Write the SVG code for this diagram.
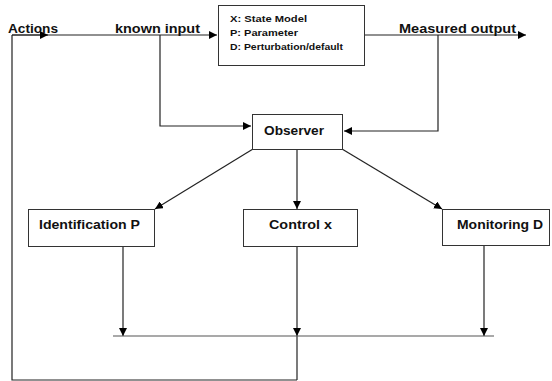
<svg xmlns="http://www.w3.org/2000/svg" width="552" height="381" viewBox="0 0 552 381">
<defs>
<marker id="ah" viewBox="0 0 10 10" refX="10" refY="5" markerWidth="8" markerHeight="8" markerUnits="userSpaceOnUse" orient="auto">
<path d="M0,0 L10,5 L0,10 z" fill="#000"/>
</marker>
</defs>
<style>
.box{fill:#fff;stroke:#333;stroke-width:1}
.t{font-family:"Liberation Sans",Arial,sans-serif;font-weight:bold;font-size:12px;fill:#111}
.s{font-family:"Liberation Sans",Arial,sans-serif;font-weight:bold;font-size:9.5px;fill:#111}
.c{fill:none;stroke:#222;stroke-width:1.2}
.g{fill:none;stroke:#555;stroke-width:1.2}
</style>
<rect width="552" height="381" fill="#fff"/>
<g id="connectors">
<line class="c" x1="12" y1="35" x2="217" y2="35" marker-end="url(#ah)"/>
<line class="c" x1="12" y1="35" x2="48" y2="35" marker-end="url(#ah)"/>
<polyline class="c" points="12,35 12,380 297,380"/>
<polyline class="c" points="160,35 160,126 251,126" marker-end="url(#ah)"/>
<line class="c" x1="364" y1="35" x2="526" y2="35" marker-end="url(#ah)"/>
<polyline class="c" points="438,35 438,131 344,131" marker-end="url(#ah)"/>
<line class="c" x1="253" y1="149" x2="155" y2="209" marker-end="url(#ah)"/>
<line class="c" x1="297" y1="149" x2="297" y2="209" marker-end="url(#ah)"/>
<line class="c" x1="342" y1="149" x2="442" y2="209" marker-end="url(#ah)"/>
<line class="c" x1="123" y1="246" x2="123" y2="336" marker-end="url(#ah)"/>
<line class="c" x1="297" y1="246" x2="297" y2="336" marker-end="url(#ah)"/>
<line class="c" x1="297" y1="336" x2="297" y2="380"/>
<line class="c" x1="484" y1="246" x2="484" y2="336" marker-end="url(#ah)"/>
<line class="g" x1="113" y1="336" x2="494" y2="336"/>
</g>
<g id="labels">
<text class="t" x="8" y="33" textLength="50" lengthAdjust="spacingAndGlyphs">Actions</text>
<text class="t" x="115" y="33" textLength="85" lengthAdjust="spacingAndGlyphs">known input</text>
<text class="t" x="399" y="33" textLength="117" lengthAdjust="spacingAndGlyphs">Measured output</text>
</g>
<g id="model">
<rect class="box" x="218.5" y="5.5" width="146" height="60"/>
<text class="s" x="230" y="22" textLength="77" lengthAdjust="spacingAndGlyphs">X: State Model</text>
<text class="s" x="230" y="36" textLength="68" lengthAdjust="spacingAndGlyphs">P: Parameter</text>
<text class="s" x="230" y="50" textLength="113" lengthAdjust="spacingAndGlyphs">D: Perturbation/default</text>
</g>
<g id="observer">
<rect class="box" x="252.5" y="114.5" width="90" height="35"/>
<text class="t" x="264" y="135" textLength="60" lengthAdjust="spacingAndGlyphs">Observer</text>
</g>
<g id="identification">
<rect class="box" x="28.5" y="209.5" width="126" height="37"/>
<text class="t" x="39" y="229" textLength="101" lengthAdjust="spacingAndGlyphs">Identification P</text>
</g>
<g id="control">
<rect class="box" x="243.5" y="209.5" width="114" height="37"/>
<text class="t" x="269" y="229" textLength="63" lengthAdjust="spacingAndGlyphs">Control x</text>
</g>
<g id="monitoring">
<rect class="box" x="442.5" y="209.5" width="107" height="36"/>
<text class="t" x="457" y="229" textLength="86" lengthAdjust="spacingAndGlyphs">Monitoring D</text>
</g>
</svg>
